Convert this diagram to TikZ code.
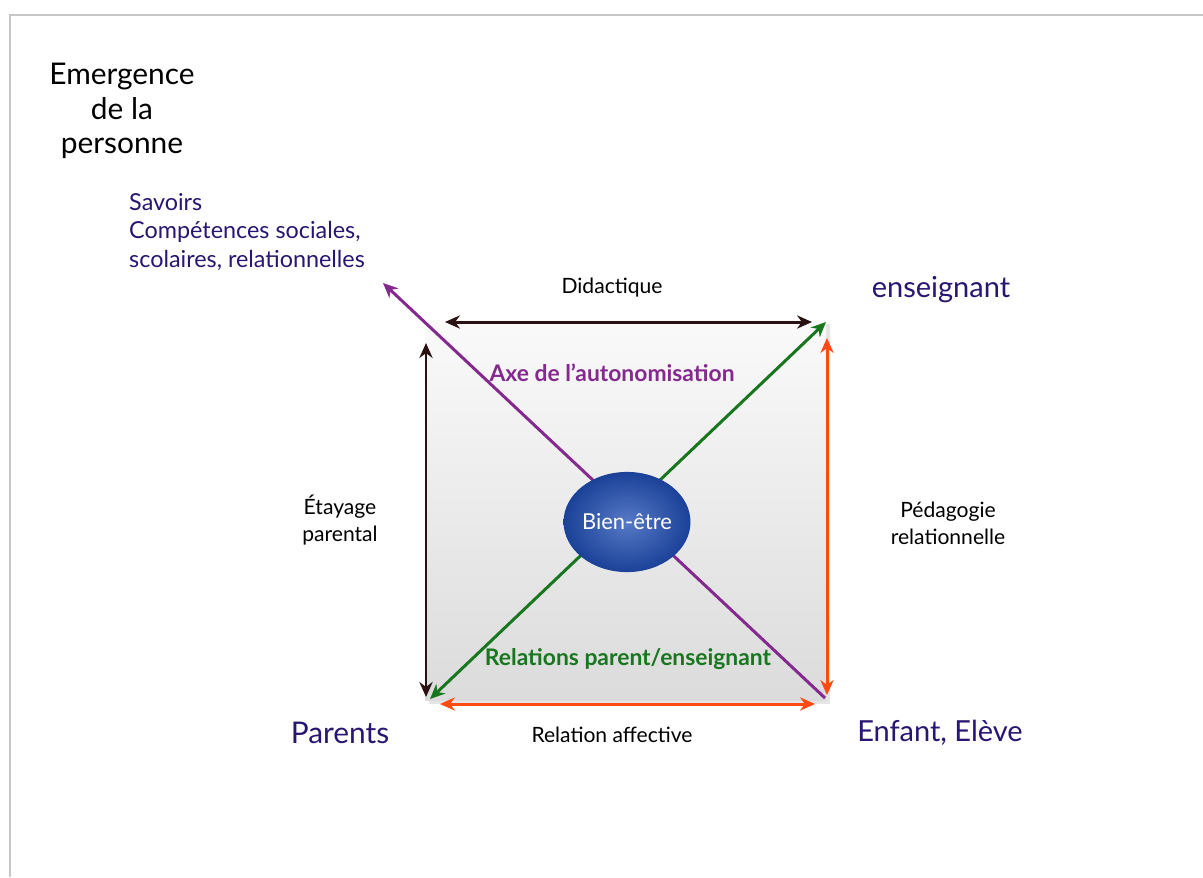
\documentclass[tikz,border=0pt]{standalone}
\usepackage{fontspec}
\setmainfont{Lato}
\usetikzlibrary{arrows.meta,positioning,shapes.geometric,shadows}
\definecolor{inkdark}{HTML}{2A1212}
\definecolor{orangered}{HTML}{FF4A12}
\definecolor{axisgreen}{HTML}{17761E}
\definecolor{axispurple}{HTML}{84298E}
\definecolor{navytext}{HTML}{2A1672}
\definecolor{wellblue}{HTML}{1F4DB3}

\begin{document}
\begin{tikzpicture}[x=0.02cm,y=-0.02cm]
        \tikzset{arrow/.style={line width=1.7pt,{Stealth[length=8.5pt,width=7.5pt]}-{Stealth[length=8.5pt,width=7.5pt]}},
            darkarrow/.style={arrow,draw=inkdark},
            orangearrow/.style={arrow,draw=orangered},
            label/.style={align=center,font=\fontsize{12}{15.5}\selectfont},
            pole/.style={text=navytext,font=\fontsize{16.5}{19}\selectfont},
            axis/.style={font=\bfseries\fontsize{13}{15}\selectfont}}
        \useasboundingbox (0,0) rectangle (1203,877);
        \fill[white] (0,0) rectangle (1203,877);
        \draw[gray!45,line width=1pt] (10,877) -- (10,15) -- (1203,15);
        % the square
        \fill[top color=gray!4,bottom color=gray!28,drop shadow={opacity=0.2}]
            (425,320) rectangle (826,700);
        \coordinate (didL) at (445,322);
        \coordinate (didR) at (812,322);
        \coordinate (etaT) at (426,343);
        \coordinate (etaB) at (426,697);
        \coordinate (pedT) at (827,338);
        \coordinate (pedB) at (827,695);
        \coordinate (affL) at (440,704);
        \coordinate (affR) at (815,704);
        \coordinate (parents) at (430,699);
        \coordinate (teacher) at (826,322);
        \coordinate (child) at (825,698);
        \coordinate (autonomy) at (383,283);
        \draw[darkarrow] (didL) -- (didR);
        \draw[darkarrow] (etaT) -- (etaB);
        \draw[orangearrow] (pedT) -- (pedB);
        \draw[orangearrow] (affL) -- (affR);
        \draw[arrow,draw=axisgreen] (parents) -- (teacher);
        \draw[line width=1.7pt,draw=axispurple,-{Stealth[length=8.5pt,width=7.5pt]}] (child) -- (autonomy);
        \node[ellipse,inner sep=0pt,minimum width=64pt,minimum height=57pt,inner color=wellblue!75!white,
            outer color=wellblue!85!black,text=white,font=\fontsize{12.5}{14}\selectfont] (wellbeing) at (627,522) {Bien-être};
        % texts
        \node[align=center,font=\fontsize{17}{19.5}\selectfont] (emergence) at (122,111) {Emergence\\de la\\personne};
        \node[anchor=west,align=left,text=navytext,font=\fontsize{13.3}{16.2}\selectfont] (savoirs) at (123,232)
            {Savoirs\\Compétences sociales,\\scolaires, relationnelles};
        \node[label] (didactique) at (612,288) {Didactique};
        \node[label] (etayage) at (340,520) {Étayage\\parental};
        \node[label] (pedagogie) at (948,523) {Pédagogie\\relationnelle};
        \node[label] (affective) at (612,735) {Relation affective};
        \node[axis,text=axispurple] (axe) at (612,373) {Axe de l’autonomisation};
        \node[axis,text=axisgreen] (relations) at (628,659) {Relations parent/enseignant};
        \node[pole] (enseignant) at (941,290) {enseignant};
        \node[pole,font=\fontsize{17}{19}\selectfont] (parentsname) at (340,733) {Parents};
        \node[pole] (enfant) at (940,733) {Enfant, Elève};
    \end{tikzpicture}
\end{document}
